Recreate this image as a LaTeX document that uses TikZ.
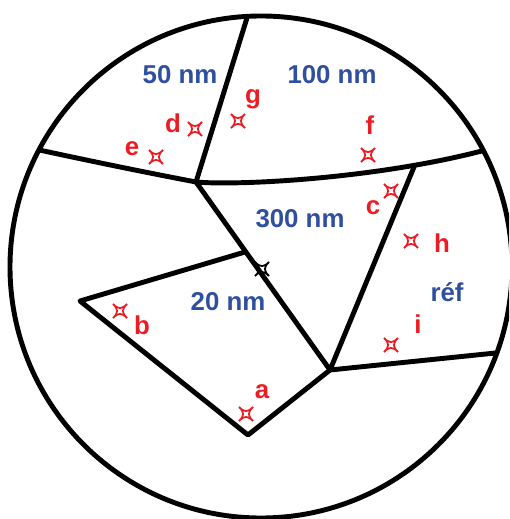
\documentclass[tikz,border=0pt]{standalone}
\usepackage{fontspec}
\setmainfont{Liberation Sans}
\usepackage{tikz}
\definecolor{Blue}{HTML}{2F4FA0}
\definecolor{Red}{HTML}{EC1C24}

\begin{document}
\begin{tikzpicture}[x=0.02cm,y=-0.02cm,
    grain/.style={line width=2.8pt,line join=round,line cap=round},
    size/.style={text=Blue,font=\fontsize{14.7}{16}\selectfont\bfseries,anchor=base,inner sep=0pt},
    spot/.style={text=Red,font=\fontsize{14.7}{16}\selectfont\bfseries,anchor=base,inner sep=0pt},
    xmark/.pic={\draw[line width=1pt] (7,7) .. controls (1.5,1.5) and (-1.5,1.5) .. (-7,7)
      .. controls (-1.5,1.5) and (-1.5,-1.5) .. (-7,-7) .. controls (-1.5,-1.5) and (1.5,-1.5) .. (7,-7)
      .. controls (1.5,-1.5) and (1.5,1.5) .. (7,7) -- cycle;}]
  \useasboundingbox (0,0) rectangle (509,519);
  \clip (0,0) rectangle (509,519);
  % grain corners
  \coordinate (c0) at (261,267);
  \coordinate (tp) at (251,5);
  \coordinate (j1) at (196,182);
  \coordinate (lw) at (30,148);
  \coordinate (re) at (500,146);
  \coordinate (j2) at (414,167);
  \coordinate (j3) at (330,370);
  \coordinate (rr) at (515,351);
  \coordinate (m1) at (245,252);
  \coordinate (v1) at (80,301);
  \coordinate (v2) at (248,435);
  \begin{scope}
    \clip (c0) circle [radius=251];
    \draw[grain] (tp) -- (j1);
    \draw[grain] (lw) .. controls (90,161) and (146,172.5) .. (j1)
      .. controls (240,186) and (390,178) .. (re);
    \draw[grain] (j1) -- (j3) -- (j2);
    \draw[grain] (m1) -- (v1) -- (v2) -- (j3) -- (rr);
  \end{scope}
  \draw[grain] (c0) circle [radius=251];
  % grain sizes
  \node[size] (s50) at (180,84) {50 nm};
  \node[size] (s100) at (332,84) {100 nm};
  \node[size] (s300) at (300,228) {300 nm};
  \node[size] (s20) at (228,311) {20 nm};
  \node[size] (sref) at (447,301) {réf};
  % measured spots
  \pic[color=Red] at (246,414) {xmark};
  \pic[color=Red] at (120,311) {xmark};
  \pic[color=Red] at (391,191) {xmark};
  \pic[color=Red] at (195,129) {xmark};
  \pic[color=Red] at (156,157) {xmark};
  \pic[color=Red] at (368,155) {xmark};
  \pic[color=Red] at (238,121) {xmark};
  \pic[color=Red] at (411,241) {xmark};
  \pic[color=Red] at (391,345) {xmark};
  \pic[color=black] at (262,269) {xmark};
  \node[spot] (la) at (262,398) {a};
  \node[spot] (lb) at (142,334) {b};
  \node[spot] (lc) at (373,215) {c};
  \node[spot] (ld) at (173,133) {d};
  \node[spot] (le) at (132,156) {e};
  \node[spot] (lf) at (370,135) {f};
  \node[spot] (lg) at (253,104) {g};
  \node[spot] (lh) at (442,253) {h};
  \node[spot] (li) at (418,333) {i};
\end{tikzpicture}
\end{document}
